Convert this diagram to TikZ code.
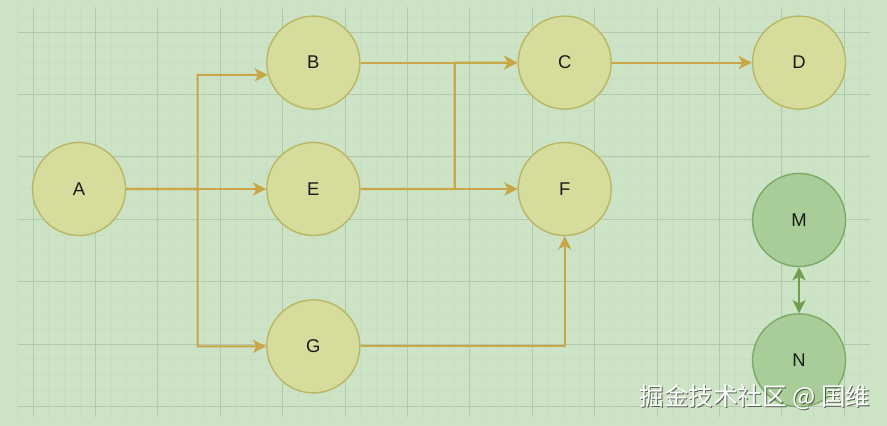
\documentclass[tikz,border=0pt]{standalone}
\usepackage{fontspec}
\setsansfont{Liberation Sans}
\newfontfamily\cjkfont{Noto Sans CJK SC}
\usetikzlibrary{arrows.meta, positioning, calc}
\definecolor{pagebg}{HTML}{CDE3C6}
\definecolor{gridmajor}{HTML}{B2CAAC}
\definecolor{gridminor}{HTML}{C8DEC2}
\definecolor{taskbg}{HTML}{D6DC9C}
\definecolor{taskborder}{HTML}{B9B764}
\definecolor{taskarrow}{HTML}{C9A648}
\definecolor{pairbg}{HTML}{A9CD99}
\definecolor{pairborder}{HTML}{7DA967}
\definecolor{pairarrow}{HTML}{6E9F4C}
\definecolor{textcolor}{HTML}{1A1A1A}
\tikzset{
  taskcircle/.style={
    circle,
    draw=taskborder,
    fill=taskbg,
    line width=0.8pt,
    minimum size=1.86cm,
    inner sep=0pt,
    text=textcolor,
    font=\sffamily\fontsize{10.5}{12}\selectfont
  },
  paircircle/.style={
    taskcircle,
    draw=pairborder,
    fill=pairbg
  },
  arrowt/.style={
    -{Stealth[length=7.5pt, width=7.5pt, inset=2pt]},
    line width=1.2pt,
    color=taskarrow
  },
  arrowp/.style={
    {Stealth[length=7.5pt, width=7.5pt, inset=2pt]}-{Stealth[length=7.5pt, width=7.5pt, inset=2pt]},
    line width=1.2pt,
    color=pairarrow
  },
  gridminorline/.style={gridminor, line width=0.3pt},
  gridmajorline/.style={gridmajor, line width=0.5pt}
}

\begin{document}
\begin{tikzpicture}[x=0.02cm, y=-0.02cm]

  % ==================== BACKGROUND ====================
  \fill[pagebg] (0,0) rectangle (887,426);
  \useasboundingbox (0,0) rectangle (887,426);
  \foreach \i in {0,...,54} {
    \draw[gridminorline] ({17.4+15.6*\i},7) -- ({17.4+15.6*\i},417);
  }
  \foreach \i in {0,...,25} {
    \draw[gridminorline] (18,{16.4+15.6*\i}) -- (870,{16.4+15.6*\i});
  }
  \foreach \i in {0,...,13} {
    \draw[gridmajorline] ({33+62.4*\i},7) -- ({33+62.4*\i},417);
  }
  \foreach \i in {0,...,6} {
    \draw[gridmajorline] (18,{32+62.45*\i}) -- (870,{32+62.45*\i});
  }

  % ==================== TASKS ====================
  \node (A) [taskcircle] at (79,189) {A};
  \node (E) [taskcircle, right=2.8cm of A] {E};
  \node (B) [taskcircle, above=0.64cm of E] {B};
  \node (G) [taskcircle, below=1.26cm of E] {G};
  \node (C) [taskcircle, right=3.14cm of B] {C};
  \node (F) [taskcircle, right=3.14cm of E] {F};
  \node (D) [taskcircle, right=2.8cm of C] {D};

  % ==================== PAIR ====================
  \node (M) [paircircle, below=1.26cm of D] {M};
  \node (N) [paircircle, below=0.92cm of M] {N};

  % Junctions
  \coordinate (jA) at ($(A.east)!0.51!(E.west)$);
  \coordinate (jE) at ($(E.east)!0.6!(F.west)$);

  % Connectors
  \draw [arrowt] (A) -- (jA) |- (B.195);
  \draw [arrowt] (A) -- (E);
  \draw [arrowt] (A) -- (jA) |- (G);
  \draw [arrowt] (B) -- (C);
  \draw [arrowt] (E) -- (jE) |- (C);
  \draw [arrowt] (E) -- (F);
  \draw [arrowt] (G) -| (F);
  \draw [arrowt] (C) -- (D);
  \draw [arrowp] (M) -- (N);

  % Watermark
  \node (wmshadow) at (756,398) [font=\cjkfont\fontsize{14}{16}\selectfont, text=black, opacity=0.55] {掘金技术社区 @ 国维};
  \node (wm) at (755,397) [font=\cjkfont\fontsize{14}{16}\selectfont, text=white] {掘金技术社区 @ 国维};

\end{tikzpicture}
\end{document}
